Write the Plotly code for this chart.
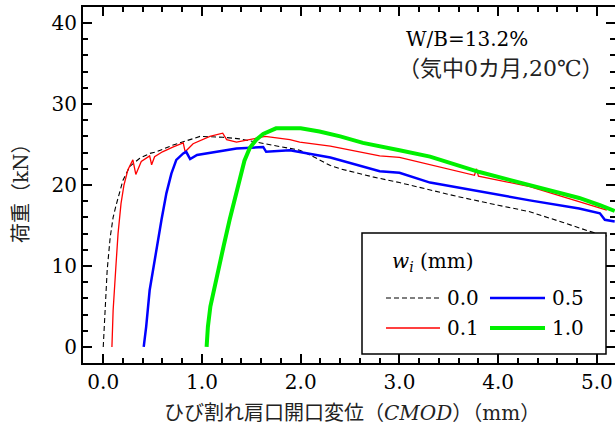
import plotly.graph_objects as go

# ---- data ----
cmod_00 = [0.0, 0.015, 0.04, 0.07, 0.10, 0.13, 0.20, 0.27, 0.37, 0.47, 0.54, 0.70, 0.98, 1.21, 1.38,
           1.72, 1.99, 2.16, 2.30, 2.40, 2.73, 3.00, 3.31, 3.58, 4.00, 4.32, 4.65, 4.92, 5.10]
load_00 = [0.0, 4.0, 9.5, 13.5, 16.0, 17.5, 20.6, 22.3, 23.3, 23.9, 24.1, 24.9, 26.0, 25.9, 25.7,
           24.9, 24.3, 23.3, 22.4, 22.0, 21.0, 20.3, 19.4, 18.6, 17.5, 16.7, 15.4, 14.3, 13.7]

cmod_01 = [0.088, 0.10, 0.13, 0.15, 0.18, 0.21, 0.25, 0.30, 0.33, 0.385, 0.47, 0.49, 0.52, 0.60,
           0.71, 0.81, 0.83, 0.91, 1.08, 1.21, 1.25, 1.35, 1.48, 1.64, 1.89, 1.99, 2.30, 2.80,
           3.00, 3.31, 3.76, 3.78, 3.80, 4.32, 4.82, 5.10]
load_01 = [0.0, 4.5, 10.3, 14.0, 17.7, 20.0, 21.9, 23.1, 21.3, 22.9, 23.6, 22.5, 23.5, 24.1,
           24.7, 25.2, 24.1, 25.1, 26.0, 26.4, 25.6, 25.3, 25.6, 26.0, 25.6, 25.3, 24.8, 23.6,
           23.4, 22.5, 21.2, 22.0, 21.1, 19.8, 17.9, 16.9]

cmod_05 = [0.41, 0.435, 0.47, 0.52, 0.56, 0.59, 0.64, 0.69, 0.74, 0.81, 0.84, 0.88, 0.95, 1.15,
           1.35, 1.62, 1.65, 1.89, 2.06, 2.30, 2.80, 3.00, 3.31, 3.81, 4.32, 4.82, 5.03, 5.08, 5.18]
load_05 = [0.0, 2.5, 7.0, 10.7, 14.0, 15.7, 19.0, 21.4, 23.1, 23.9, 24.1, 23.2, 23.7, 24.1,
           24.5, 24.7, 24.1, 24.3, 23.9, 23.4, 21.7, 21.5, 20.3, 19.2, 18.1, 17.1, 16.5, 15.7, 15.5]

cmod_10 = [1.047, 1.06, 1.085, 1.11, 1.16, 1.22, 1.28, 1.33, 1.38, 1.43, 1.485, 1.55, 1.62, 1.75,
           2.00, 2.19, 2.40, 2.63, 3.00, 3.31, 3.81, 4.32, 4.82, 5.03, 5.18]
load_10 = [0.0, 2.5, 5.0, 6.5, 9.2, 12.5, 15.7, 18.1, 21.0, 23.0, 24.6, 25.6, 26.3, 27.0,
           27.0, 26.6, 26.0, 25.2, 24.3, 23.5, 21.6, 20.0, 18.4, 17.5, 16.8]

x_ticks = [0, 1, 2, 3, 4, 5]
x_ticktext = ["0.0", "1.0", "2.0", "3.0", "4.0", "5.0"]
y_ticks = [0, 10, 20, 30, 40]
legend_labels = ["0.0", "0.5", "0.1", "1.0"]

SERIF = "DejaVu Serif, Noto Sans CJK JP"
FS = 20

fig = go.Figure()
fig.add_trace(go.Scatter(x=cmod_00, y=load_00, mode="lines", name="0.0",
                         line=dict(color="black", width=1.1, dash="5px,3px")))
fig.add_trace(go.Scatter(x=cmod_01, y=load_01, mode="lines", name="0.1",
                         line=dict(color="#ff0000", width=1.3)))
fig.add_trace(go.Scatter(x=cmod_05, y=load_05, mode="lines", name="0.5",
                         line=dict(color="#0000ff", width=2.5)))
fig.add_trace(go.Scatter(x=cmod_10, y=load_10, mode="lines", name="1.0",
                         line=dict(color="#00f000", width=4)))

axis_common = dict(showline=True, linecolor="black", linewidth=2, mirror="allticks",
                   ticks="inside", ticklen=9, tickwidth=1.5, tickcolor="black",
                   showgrid=False, zeroline=False, automargin=False,
                   tickfont=dict(family=SERIF, size=FS, color="black"))

fig.update_xaxes(range=[-0.205, 5.183], tickvals=x_ticks, ticktext=x_ticktext,
                 minor=dict(dtick=0.2, tick0=0, ticks="inside", ticklen=5, tickwidth=1.5,
                            tickcolor="black"),
                 **axis_common)
fig.update_yaxes(range=[-1.98, 41.98], tickvals=y_ticks,
                 minor=dict(dtick=2, tick0=0, ticks="inside", ticklen=5, tickwidth=1.5,
                            tickcolor="black"),
                 **axis_common)

# legend drawn as a box inside the plot
def px_x(p):
    return (p - 83) / 532.0

def px_y(p):
    return (363 - p) / 356.0

shapes = [dict(type="rect", xref="paper", yref="paper", x0=px_x(362), x1=px_x(606),
               y0=px_y(354), y1=px_y(233), line=dict(color="black", width=1.5),
               fillcolor="white", layer="above")]
styles = [dict(color="black", width=1.1, dash="5px,3px"),
          dict(color="#0000ff", width=2.5),
          dict(color="#ff0000", width=1.3),
          dict(color="#00f000", width=4)]
pos = [(386, 440, 298), (490, 545, 298), (386, 440, 328), (490, 545, 328)]
annotations = []
for (x0, x1, yy), st, lab in zip(pos, styles, legend_labels):
    shapes.append(dict(type="line", xref="paper", yref="paper", x0=px_x(x0), x1=px_x(x1),
                       y0=px_y(yy), y1=px_y(yy), line=st, layer="above"))
    annotations.append(dict(xref="paper", yref="paper", x=px_x(x1 + 5), y=px_y(yy),
                            xanchor="left", yanchor="middle", text=lab, showarrow=False,
                            font=dict(family=SERIF, size=FS, color="black")))
annotations.append(dict(xref="paper", yref="paper", x=px_x(390), y=px_y(262),
                        xanchor="left", yanchor="middle",
                        text="<i>w</i><sub><i>i</i></sub> (mm)", showarrow=False,
                        font=dict(family=SERIF, size=FS, color="black")))
annotations.append(dict(xref="paper", yref="paper", x=px_x(467), y=px_y(39),
                        xanchor="center", yanchor="middle", text="W/B=13.2%",
                        showarrow=False, font=dict(family=SERIF, size=FS, color="black")))
annotations.append(dict(xref="paper", yref="paper", x=px_x(501), y=px_y(68),
                        xanchor="center", yanchor="middle", text="（気中0カ月,20℃）",
                        showarrow=False, font=dict(family=SERIF, size=22, color="#222")))
# axis titles
annotations.append(dict(xref="paper", yref="paper", x=px_x(352), y=px_y(413),
                        xanchor="center", yanchor="middle",
                        text="ひび割れ肩口開口変位（<i>CMOD</i>）（mm）",
                        showarrow=False, font=dict(family=SERIF, size=20, color="#222")))
annotations.append(dict(xref="paper", yref="paper", x=px_x(21), y=px_y(188),
                        xanchor="center", yanchor="middle", textangle=-90,
                        text="荷重（kN）",
                        showarrow=False, font=dict(family=SERIF, size=20, color="#222")))

fig.update_layout(width=615, height=430, margin=dict(l=83, r=0, t=7, b=67),
                  paper_bgcolor="white", plot_bgcolor="white", showlegend=False,
                  font=dict(family=SERIF),
                  shapes=shapes, annotations=annotations)

fig.write_html("out.html", config={"displayModeBar": False},
               post_script="document.body.style.margin='0px';")
